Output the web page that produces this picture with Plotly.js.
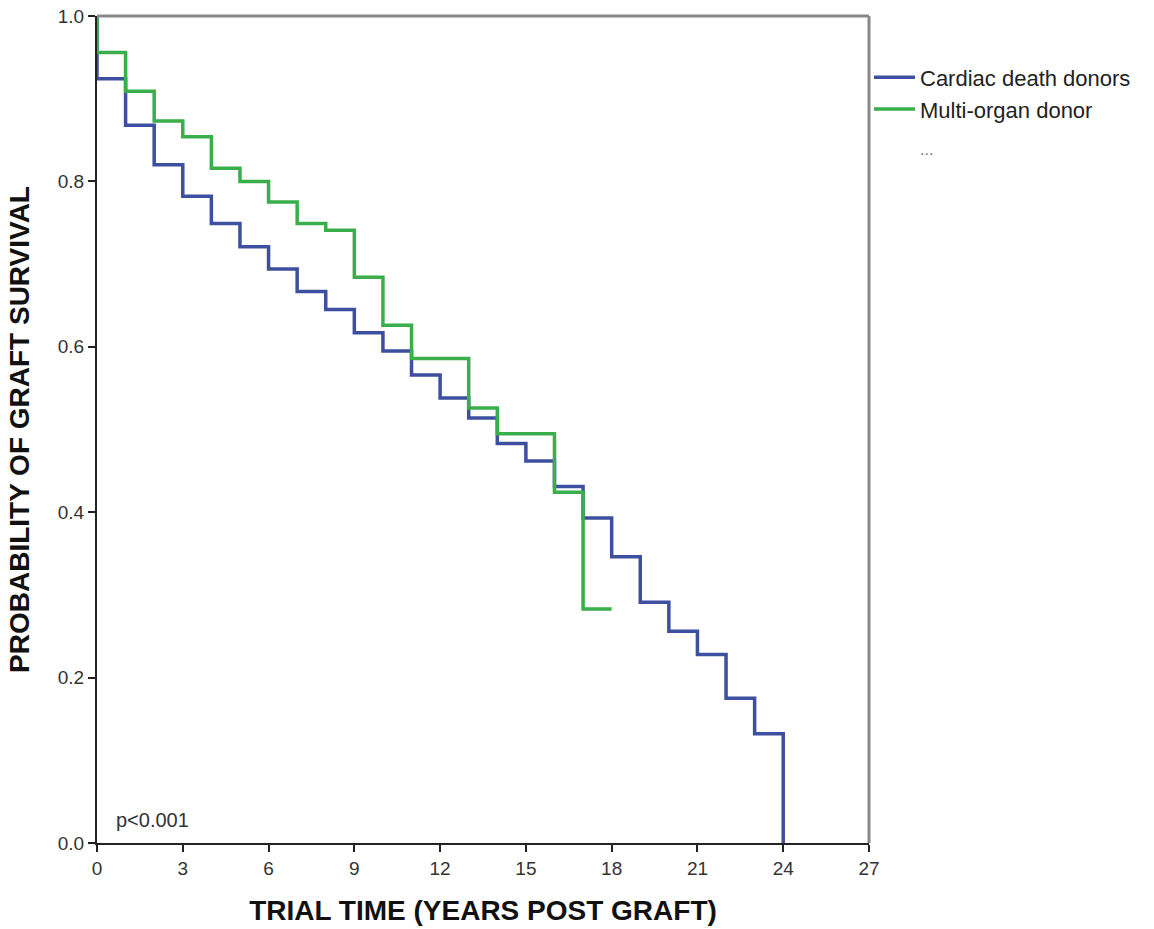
<!DOCTYPE html>
<html>
<head>
<meta charset="utf-8">
<script src="https://cdn.plot.ly/plotly-3.0.1.min.js"></script>
<style>html,body{margin:0;padding:0;background:#fff}#chart{width:1154px;height:929px}</style>
</head>
<body>
<div id="chart"></div>
<script>
// Kaplan-Meier step data (time in years, survival probability)
const cardiacTimes = [0, 0, 1, 2, 3, 4, 5, 6, 7, 8, 9, 10, 11, 12, 13, 14, 15, 16, 17, 18, 19, 20, 21, 22, 23, 24];
const cardiacSurv  = [1.0, 0.924, 0.868, 0.820, 0.782, 0.749, 0.721, 0.694, 0.667, 0.645, 0.617, 0.595, 0.566, 0.538, 0.514, 0.483, 0.462, 0.431, 0.393, 0.346, 0.291, 0.256, 0.228, 0.175, 0.132, 0.0];
const multiTimes = [0, 0, 1, 2, 3, 4, 5, 6, 7, 8, 9, 10, 11, 13, 14, 16, 17, 18];
const multiSurv  = [1.0, 0.956, 0.909, 0.873, 0.854, 0.816, 0.800, 0.775, 0.749, 0.741, 0.684, 0.626, 0.586, 0.526, 0.495, 0.424, 0.283, 0.283];
const seriesNames = ["Cardiac death donors", "Multi-organ donor"];
const xTicks = [0, 3, 6, 9, 12, 15, 18, 21, 24, 27];
const yTicks = [0.0, 0.2, 0.4, 0.6, 0.8, 1.0];

const font = "Liberation Sans, Arial, sans-serif";
const traces = [
  {x: cardiacTimes, y: cardiacSurv, name: seriesNames[0], mode: "lines",
   line: {shape: "hv", color: "#3d4f9f", width: 3.5}},
  {x: multiTimes, y: multiSurv, name: seriesNames[1], mode: "lines",
   line: {shape: "hv", color: "#3aae4a", width: 3.5}}
];
const layout = {
  width: 1154, height: 929,
  margin: {l: 97, r: 285, t: 16, b: 86},
  paper_bgcolor: "#fff", plot_bgcolor: "#fff",
  font: {family: font, color: "#222"},
  showlegend: true,
  legend: {x: 1.0, xanchor: "left", y: 0.951, yanchor: "top", bgcolor: "rgba(0,0,0,0)",
           font: {size: 22, family: font, color: "#222"}, tracegroupgap: 0, itemwidth: 41},
  xaxis: {range: [0, 27], tickvals: xTicks, ticktext: xTicks.map(String), ticks: "outside", ticklen: 7,
          tickcolor: "#222", tickwidth: 2, showline: true, linecolor: "#222", linewidth: 2, mirror: false,
          showgrid: false, zeroline: false, tickfont: {size: 19, color: "#333"},
          title: {text: "TRIAL TIME (YEARS POST GRAFT)", font: {size: 28, family: font, color: "#111", weight: "bold"}, standoff: 23}},
  yaxis: {range: [0, 1], tickvals: yTicks, ticktext: yTicks.map(v => v.toFixed(1)), ticks: "outside", ticklen: 7,
          tickcolor: "#222", tickwidth: 2, showline: true, linecolor: "#222", linewidth: 2,
          showgrid: false, zeroline: false, tickfont: {size: 19, color: "#333"},
          title: {text: "PROBABILITY OF GRAFT SURVIVAL", font: {size: 28, family: font, color: "#111", weight: "bold"}, standoff: 20}},
  shapes: [
    {type: "line", xref: "paper", yref: "paper", x0: 0, x1: 1, y0: 1, y1: 1, line: {color: "#888", width: 3}},
    {type: "line", xref: "paper", yref: "paper", x0: 1, x1: 1, y0: 0, y1: 1, line: {color: "#888", width: 3}}
  ],
  annotations: [
    {text: "p<0.001", xref: "paper", yref: "paper", x: 0.022, y: 0.012, xanchor: "left", yanchor: "bottom",
     showarrow: false, font: {size: 20, color: "#333", family: font}},
    {text: "...", xref: "paper", yref: "paper", x: 1.064, y: 0.838, xanchor: "left", yanchor: "middle",
     showarrow: false, font: {size: 16, color: "#777", family: font}}
  ]
};
Plotly.newPlot("chart", traces, layout, {displayModeBar: false, staticPlot: true});
</script>
</body>
</html>
